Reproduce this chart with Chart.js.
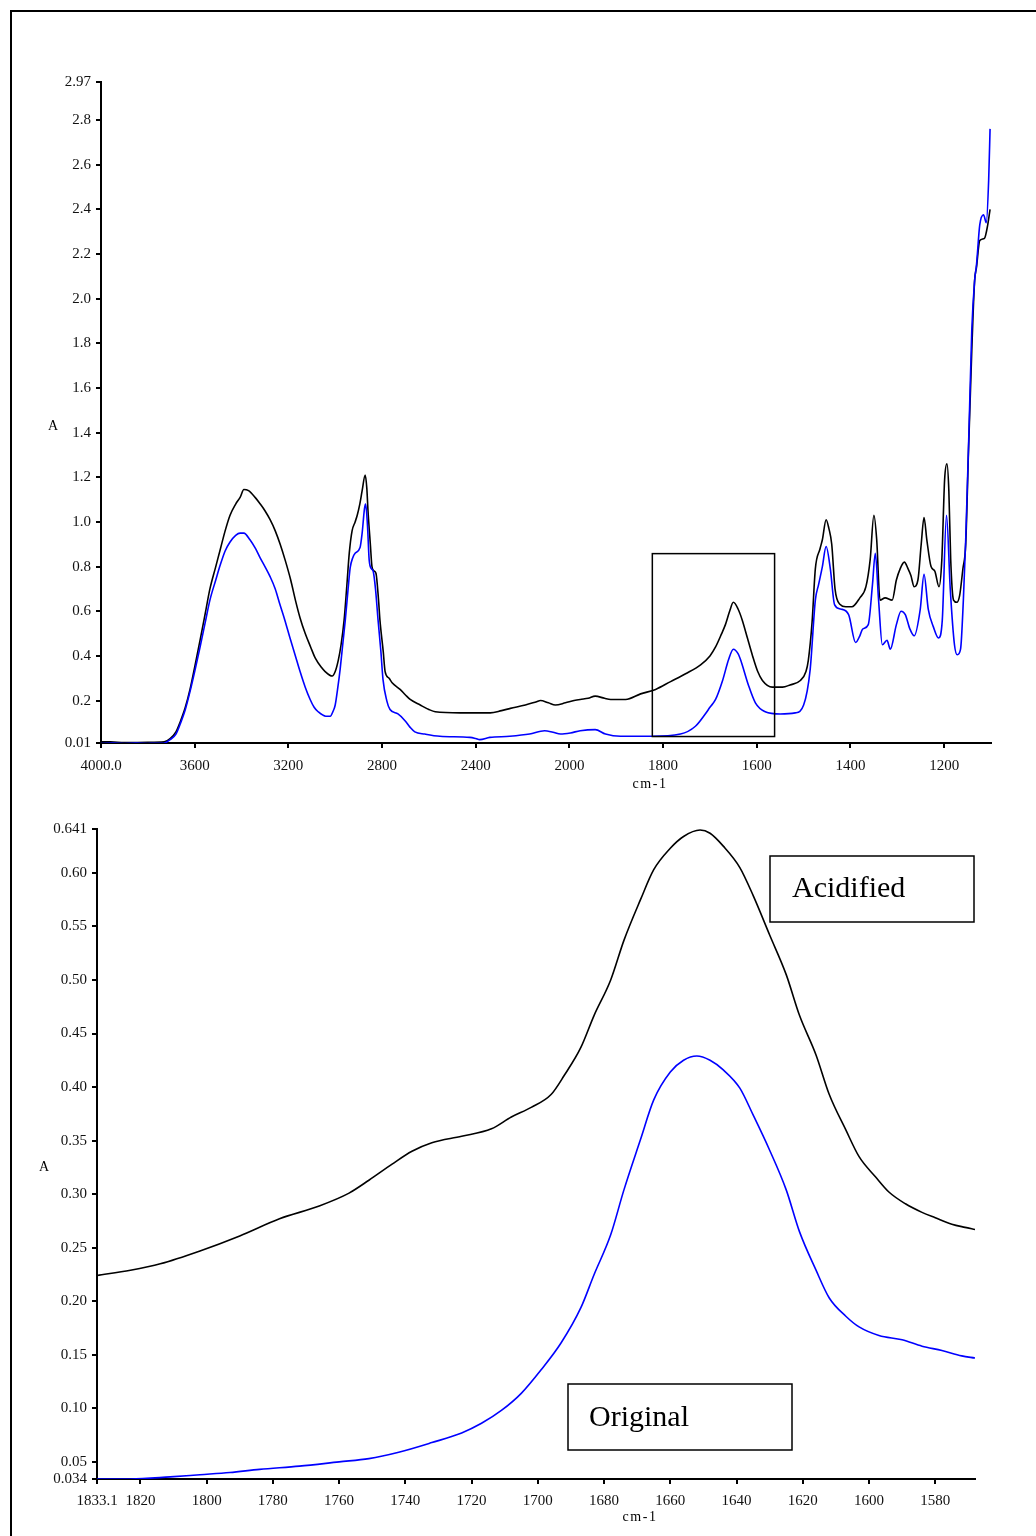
<!DOCTYPE html>
<html>
<head>
<meta charset="utf-8">
<script src="https://cdn.jsdelivr.net/npm/chart.js@4.4.1/dist/chart.umd.min.js"></script>
<style>
  html, body { margin: 0; padding: 0; background: #fff; }
  body { width: 1036px; height: 1536px; position: relative; overflow: hidden; }
  #frame { position: absolute; left: 10px; top: 10px; width: 1040px; height: 1540px; border: 2px solid #000; box-sizing: border-box; }
  .wrap { position: absolute; left: 0; }
</style>
</head>
<body>
<div id="frame"></div>
<div class="wrap" style="top:0px;width:1036px;height:800px"><canvas id="top" width="1036" height="800"></canvas></div>
<div class="wrap" style="top:800px;width:1036px;height:736px"><canvas id="bottom" width="1036" height="736"></canvas></div>
<script>
// ---------------- DATA ----------------
// Full spectrum (top panel): Acidified (black)
const acidWn = [4000,3960,3900,3800,3730,3705,3680,3660,3640,3620,3600,3577,3555,3535,3510,3490,3470,3449,3425,3406,3390,3370,3342,3320,3300,3278,3256,3235,3214,3190,3170,3150,3128,3105,3085,3060,3043,3013,3000,2987,2975,2962,2950,2940,2928,2915,2906,2895,2885,2872,2865,2860,2850,2843,2834,2826,2815,2809,2795,2787,2770,2757,2723,2700,2680,2637,2600,2573,2466,2400,2338,2290,2252,2188,2140,2124,2090,2060,2017,1990,1977,1960,1945,1925,1912,1880,1848,1816,1784,1752,1720,1700,1688,1675,1667,1658,1650,1640,1631,1620,1609,1598,1588,1567,1545,1529,1507,1495,1490,1482,1475,1465,1460,1452,1446,1440,1433,1422,1410,1397,1380,1367,1358,1350,1344,1337,1326,1311,1302,1294,1285,1277,1271,1264,1256,1249,1243,1237,1228,1220,1211,1205,1199,1194,1190,1186,1180,1173,1167,1160,1154,1148,1141,1135,1131,1124,1114,1107,1102];
const acidAbs = [0.015,0.015,0.012,0.013,0.015,0.03,0.06,0.11,0.17,0.25,0.35,0.47,0.59,0.70,0.80,0.88,0.96,1.03,1.08,1.11,1.145,1.14,1.11,1.08,1.05,1.01,0.96,0.90,0.83,0.74,0.65,0.57,0.50,0.44,0.39,0.35,0.33,0.31,0.33,0.38,0.45,0.56,0.72,0.86,0.96,1.00,1.03,1.08,1.14,1.21,1.15,1.05,0.90,0.80,0.78,0.77,0.65,0.56,0.42,0.33,0.30,0.28,0.25,0.225,0.205,0.18,0.16,0.15,0.145,0.145,0.145,0.155,0.165,0.18,0.195,0.20,0.19,0.18,0.19,0.20,0.205,0.21,0.22,0.21,0.205,0.205,0.23,0.25,0.285,0.32,0.36,0.40,0.44,0.50,0.54,0.60,0.64,0.61,0.56,0.48,0.40,0.33,0.29,0.26,0.26,0.27,0.29,0.33,0.38,0.55,0.79,0.88,0.92,1.01,0.97,0.90,0.70,0.63,0.62,0.62,0.66,0.71,0.83,1.03,0.92,0.65,0.66,0.65,0.74,0.79,0.82,0.79,0.76,0.71,0.74,0.90,1.02,0.92,0.80,0.78,0.71,0.83,1.19,1.26,1.14,0.83,0.65,0.64,0.67,0.79,0.90,1.32,1.77,2.08,2.14,2.26,2.27,2.33,2.40];
// Full spectrum (top panel): Original (blue)
const origWn = [4000,3900,3800,3730,3705,3680,3660,3640,3620,3600,3577,3555,3535,3510,3490,3470,3449,3425,3406,3390,3364,3340,3321,3300,3278,3256,3236,3215,3193,3170,3150,3128,3107,3090,3073,3040,3021,3010,3000,2990,2979,2968,2957,2945,2936,2925,2915,2894,2885,2875,2870,2862,2855,2845,2838,2828,2817,2805,2796,2780,2766,2732,2702,2680,2660,2617,2553,2425,2400,2383,2340,2255,2170,2106,2070,2038,1998,1977,1945,1923,1891,1827,1763,1731,1710,1700,1688,1673,1660,1650,1640,1635,1618,1603,1582,1550,1518,1500,1486,1475,1468,1460,1452,1443,1434,1421,1404,1389,1380,1374,1362,1353,1347,1340,1332,1322,1315,1302,1292,1283,1273,1264,1251,1243,1234,1223,1212,1204,1195,1187,1178,1172,1165,1159,1154,1147,1141,1135,1131,1124,1116,1110,1105,1102];
const origAbs = [0.008,0.008,0.008,0.01,0.025,0.05,0.10,0.16,0.24,0.33,0.44,0.55,0.65,0.74,0.81,0.87,0.91,0.94,0.95,0.95,0.92,0.88,0.84,0.80,0.755,0.70,0.63,0.56,0.48,0.40,0.33,0.26,0.205,0.17,0.15,0.13,0.13,0.15,0.18,0.25,0.34,0.45,0.56,0.70,0.795,0.84,0.86,0.885,0.95,1.06,1.08,0.98,0.83,0.79,0.78,0.70,0.56,0.42,0.295,0.20,0.16,0.14,0.11,0.08,0.06,0.05,0.04,0.035,0.03,0.025,0.035,0.04,0.05,0.065,0.058,0.05,0.055,0.065,0.07,0.05,0.04,0.04,0.05,0.085,0.14,0.17,0.205,0.29,0.385,0.43,0.41,0.385,0.27,0.19,0.15,0.14,0.145,0.18,0.34,0.65,0.72,0.80,0.89,0.79,0.63,0.61,0.585,0.46,0.49,0.52,0.54,0.72,0.86,0.65,0.45,0.47,0.43,0.54,0.60,0.585,0.52,0.49,0.61,0.765,0.61,0.53,0.48,0.56,1.03,0.70,0.45,0.405,0.43,0.65,0.92,1.41,1.86,2.08,2.15,2.33,2.375,2.34,2.53,2.76];
// Zoomed region (bottom panel)
const zoomAcidWn = [1833.1,1823,1814,1802,1790,1778,1766,1757,1751,1744,1738,1732,1723,1714,1708,1702,1696,1692,1687,1683,1678,1674,1669,1665,1660,1656,1651,1648,1644,1639,1635,1630,1625,1621,1616,1612,1607,1603,1598,1594,1589,1584,1580,1575,1571,1568];
const zoomAcidAbs = [0.224,0.229,0.235,0.247,0.261,0.277,0.289,0.301,0.313,0.328,0.340,0.348,0.354,0.361,0.372,0.381,0.393,0.411,0.437,0.467,0.500,0.537,0.575,0.603,0.623,0.634,0.640,0.637,0.625,0.605,0.579,0.542,0.505,0.467,0.430,0.393,0.360,0.335,0.316,0.302,0.291,0.283,0.278,0.272,0.269,0.267];
const zoomOrigWn = [1833.1,1823,1811,1802,1793,1784,1772,1760,1751,1742,1732,1723,1717,1711,1705,1699,1693,1687,1683,1678,1674,1669,1665,1660,1656,1652,1648,1644,1639,1635,1630,1625,1621,1616,1612,1607,1603,1597,1590,1584,1578,1572,1568];
const zoomOrigAbs = [0.034,0.034,0.036,0.038,0.040,0.043,0.046,0.050,0.053,0.059,0.068,0.077,0.086,0.098,0.114,0.136,0.161,0.194,0.225,0.262,0.304,0.351,0.388,0.414,0.425,0.429,0.425,0.416,0.399,0.374,0.341,0.304,0.265,0.229,0.203,0.186,0.176,0.168,0.164,0.158,0.154,0.149,0.147];

// Ticks
const topXTicks = [4000,3600,3200,2800,2400,2000,1800,1600,1400,1200];
const topXLabels = ['4000.0','3600','3200','2800','2400','2000','1800','1600','1400','1200'];
const topYTicks = [0.01,0.2,0.4,0.6,0.8,1.0,1.2,1.4,1.6,1.8,2.0,2.2,2.4,2.6,2.8,2.97];
const topYLabels = ['0.01','0.2','0.4','0.6','0.8','1.0','1.2','1.4','1.6','1.8','2.0','2.2','2.4','2.6','2.8','2.97'];
const botXTicks = [1833.1,1820,1800,1780,1760,1740,1720,1700,1680,1660,1640,1620,1600,1580];
const botXLabels = ['1833.1','1820','1800','1780','1760','1740','1720','1700','1680','1660','1640','1620','1600','1580'];
const botYTicks = [0.034,0.05,0.10,0.15,0.20,0.25,0.30,0.35,0.40,0.45,0.50,0.55,0.60,0.641];
const botYLabels = ['0.034','0.05','0.10','0.15','0.20','0.25','0.30','0.35','0.40','0.45','0.50','0.55','0.60','0.641'];

// Highlighted region in the top panel (expanded below)
const insetWn = [1823, 1562];
const insetAbs = [0.039, 0.858];

const seriesNames = ['Acidified', 'Original'];
// ---------------------------------------

const pts = (xs, ys) => xs.map((x, i) => ({x, y: ys[i]}));

// Spectrometer axis: scale halves below 2000 cm-1
const BREAK_WN = 2000;
class BreakScale extends Chart.LinearScale {
  toU(v) { const hi = this.max; return v >= BREAK_WN ? (hi - v) / 2 : (hi - BREAK_WN) / 2 + (BREAK_WN - v); }
  getPixelForValue(v) { const span = this.toU(this.min); return this.left + (this.right - this.left) * this.toU(v) / span; }
  getValueForPixel(p) {
    const span = this.toU(this.min);
    const u = (p - this.left) / (this.right - this.left) * span;
    const uB = (this.max - BREAK_WN) / 2;
    return u <= uB ? this.max - 2 * u : BREAK_WN - (u - uB);
  }
}
BreakScale.id = 'breakx';
BreakScale.defaults = Chart.LinearScale.defaults;
Chart.register(BreakScale);

const overlayPlugin = {
  id: 'overlay',
  afterDraw(chart, args, opts) {
    const ctx = chart.ctx;
    ctx.save();
    ctx.fillStyle = '#000';
    ctx.strokeStyle = '#000';
    (opts.boxes || []).forEach(b => { ctx.lineWidth = b.lw; ctx.strokeRect(b.x, b.y, b.w, b.h); });
    if (opts.inset) {
      const xs = chart.scales.x, ys = chart.scales.y;
      const x1 = xs.getPixelForValue(opts.inset.x[0]), x2 = xs.getPixelForValue(opts.inset.x[1]);
      const y1 = ys.getPixelForValue(opts.inset.y[0]), y2 = ys.getPixelForValue(opts.inset.y[1]);
      ctx.lineWidth = 1.5;
      ctx.strokeRect(x1, y2, x2 - x1, y1 - y2);
    }
    (opts.texts || []).forEach(t => {
      ctx.font = t.font;
      ctx.textAlign = t.align || 'center';
      ctx.textBaseline = 'middle';
      ctx.letterSpacing = t.spacing || '0px';
      ctx.fillText(t.text, t.x, t.y);
    });
    ctx.restore();
  }
};

const FONT = 'Liberation Serif';
function axisCommon(ticks, labels, fixed, pad) {
  return {
    grid: { display: true, drawOnChartArea: false, drawTicks: true, tickLength: 5, color: '#000', lineWidth: 2 },
    border: { display: true, color: '#000', width: 2 },
    ticks: {
      autoSkip: false, maxRotation: 0, minRotation: 0, padding: pad, color: '#111',
      font: { family: FONT, size: 15 },
      callback: (v, i) => labels[i]
    },
    afterBuildTicks: s => { s.ticks = ticks.map(v => ({value: v})); },
    afterFit: fixed
  };
}

const lineDs = (label, data, color) => ({
  label, data, borderColor: color, borderWidth: 1.6, pointRadius: 0,
  fill: false, cubicInterpolationMode: 'monotone'
});

new Chart(document.getElementById('top'), {
  type: 'line',
  data: { datasets: [
    lineDs(seriesNames[1], pts(origWn, origAbs), '#0000ff'),
    lineDs(seriesNames[0], pts(acidWn, acidAbs), '#000000')
  ]},
  options: {
    responsive: false, animation: false, events: [],
    layout: { padding: { left: 0, top: 82, right: 45, bottom: 0 } },
    plugins: {
      legend: { display: false }, tooltip: { enabled: false },
      overlay: {
        inset: { x: insetWn, y: insetAbs },
        texts: [
          { text: 'A', x: 53, y: 426, font: '14px ' + FONT },
          { text: 'cm-1', x: 650, y: 784, font: '14px ' + FONT, spacing: '1.5px' }
        ]
      }
    },
    scales: {
      x: Object.assign({ type: 'breakx', min: 1100, max: 4000 },
        axisCommon(topXTicks, topXLabels, s => { s.height = 57; }, 9)),
      y: Object.assign({ type: 'linear', min: 0.01, max: 2.97 },
        axisCommon(topYTicks, topYLabels, s => { s.width = 101; }, 5))
    }
  },
  plugins: [overlayPlugin]
});

new Chart(document.getElementById('bottom'), {
  type: 'line',
  data: { datasets: [
    lineDs(seriesNames[1], pts(zoomOrigWn, zoomOrigAbs), '#0000ff'),
    lineDs(seriesNames[0], pts(zoomAcidWn, zoomAcidAbs), '#000000')
  ]},
  options: {
    responsive: false, animation: false, events: [],
    layout: { padding: { left: 0, top: 29, right: 61, bottom: 0 } },
    plugins: {
      legend: { display: false }, tooltip: { enabled: false },
      overlay: {
        boxes: [
          { x: 770, y: 56, w: 204, h: 66, lw: 1.5 },
          { x: 568, y: 584, w: 224, h: 66, lw: 1.5 }
        ],
        texts: [
          { text: 'A', x: 44, y: 367, font: '14px ' + FONT },
          { text: 'cm-1', x: 640, y: 717, font: '14px ' + FONT, spacing: '1.5px' },
          { text: seriesNames[0], x: 792, y: 89, font: '30px ' + FONT, align: 'left' },
          { text: seriesNames[1], x: 589, y: 618, font: '30px ' + FONT, align: 'left' }
        ]
      }
    },
    scales: {
      x: Object.assign({ type: 'linear', reverse: true, min: 1568, max: 1833.1 },
        axisCommon(botXTicks, botXLabels, s => { s.height = 57; }, 8)),
      y: Object.assign({ type: 'linear', min: 0.034, max: 0.641 },
        axisCommon(botYTicks, botYLabels, s => { s.width = 97; }, 5))
    }
  },
  plugins: [overlayPlugin]
});
</script>
</body>
</html>
